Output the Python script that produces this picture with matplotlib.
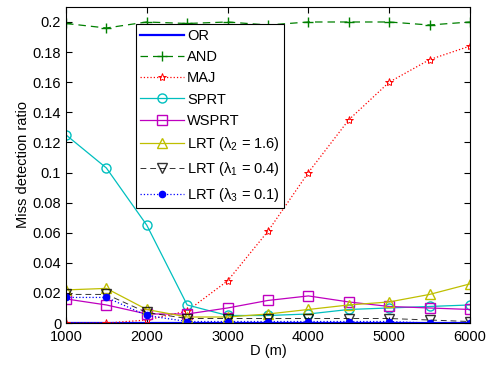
import matplotlib.pyplot as plt
import numpy as np

plt.rcParams['font.family'] = ['Liberation Sans', 'DejaVu Sans']
plt.rcParams['mathtext.fontset'] = 'custom'
plt.rcParams['mathtext.rm'] = 'Liberation Sans'
plt.rcParams['mathtext.it'] = 'Liberation Sans'

# Distances (m)
d = [1000, 1500, 2000, 2500, 3000, 3500, 4000, 4500, 5000, 5500, 6000]

# Miss detection ratio per scheme
or_vals = [0, 0, 0, 0, 0, 0, 0, 0, 0, 0, 0]
and_vals = [0.199, 0.196, 0.200, 0.199, 0.200, 0.198, 0.200, 0.200, 0.200, 0.198, 0.200]
maj_vals = [0.0, 0.0, 0.002, 0.008, 0.028, 0.061, 0.100, 0.135, 0.160, 0.175, 0.184]
sprt_vals = [0.125, 0.103, 0.065, 0.012, 0.005, 0.005, 0.006, 0.009, 0.010, 0.011, 0.012]
wsprt_vals = [0.016, 0.012, 0.006, 0.006, 0.010, 0.015, 0.018, 0.014, 0.011, 0.010, 0.009]
lrt2_vals = [0.022, 0.023, 0.009, 0.004, 0.004, 0.006, 0.009, 0.012, 0.014, 0.019, 0.026]
lrt1_vals = [0.019, 0.019, 0.007, 0.003, 0.003, 0.003, 0.003, 0.003, 0.003, 0.002, 0.001]
lrt3_vals = [0.017, 0.017, 0.005, 0.001, 0.001, 0.001, 0.001, 0.001, 0.001, 0.0, 0.0]

fig = plt.figure(figsize=(4.87, 3.65), dpi=100)
ax = fig.add_axes([0.1355, 0.115, 0.8295, 0.866])

ax.plot(d, or_vals, color='blue', linewidth=1.6, label='OR')
ax.plot(d, and_vals, color=(0, 0.5, 0), linestyle=(0, (6, 4)), marker='+', markersize=7,
        linewidth=0.9, label='AND')
ax.plot(d, maj_vals, color='red', linestyle=':', marker='*', markersize=6, markerfacecolor='none',
        markeredgewidth=0.7, linewidth=0.9, label='MAJ')
ax.plot(d, sprt_vals, color=(0, 0.75, 0.75), marker='o', markersize=6.5, markerfacecolor='none',
        linewidth=0.9, label='SPRT')
ax.plot(d, wsprt_vals, color=(0.75, 0, 0.75), marker='s', markersize=6.5, markerfacecolor='none',
        linewidth=0.9, label='WSPRT')
ax.plot(d, lrt2_vals, color=(0.75, 0.75, 0), marker='^', markersize=6.5, markerfacecolor='none',
        linewidth=0.9, label=r'LRT ($\lambda_2$ = 1.6)')
ax.plot(d, lrt1_vals, color='black', linestyle=(0, (6, 4)), marker='v', markersize=6.5,
        markerfacecolor='none', linewidth=0.7, alpha=0.8, label=r'LRT ($\lambda_1$ = 0.4)')
ax.plot(d, lrt3_vals, color='blue', linestyle=':', marker='o', markersize=4.5,
        linewidth=0.9, label=r'LRT ($\lambda_3$ = 0.1)')

ax.set_xlim(1000, 6000)
ax.set_ylim(0, 0.21)
ax.set_xticks([1000, 2000, 3000, 4000, 5000, 6000])
ax.set_yticks(np.arange(0, 0.201, 0.02))
ax.set_yticklabels(['0', '0.02', '0.04', '0.06', '0.08', '0.1', '0.12', '0.14', '0.16', '0.18', '0.2'])
ax.tick_params(direction='in', top=True, right=True, labelsize=10.5, length=4)
ax.tick_params(axis='x', pad=5)
ax.set_xlabel('D (m)', fontsize=10.5, labelpad=0)
ax.set_ylabel('Miss detection ratio', fontsize=10.5, labelpad=2)

leg = ax.legend(loc='upper left', bbox_to_anchor=(0.173, 0.945), fontsize=10.5, fancybox=False,
                edgecolor='black', framealpha=1, handlelength=3, handletextpad=0.2,
                labelspacing=0.5, borderpad=0.3, borderaxespad=0)
leg.get_frame().set_linewidth(0.8)

plt.savefig('out.png', dpi=100)
